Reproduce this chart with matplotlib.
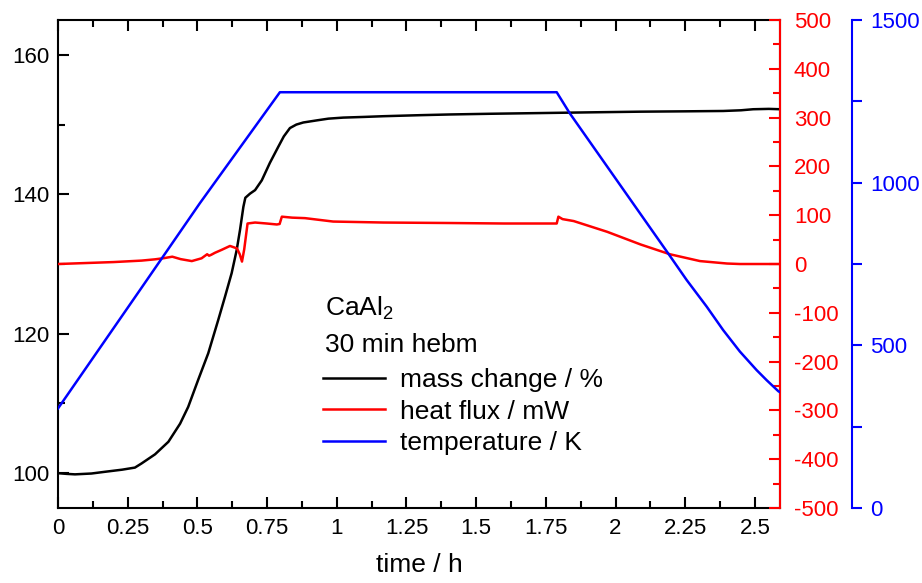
import matplotlib
matplotlib.use('Agg')
import matplotlib.pyplot as plt
from matplotlib.ticker import MultipleLocator, FuncFormatter

plt.rcParams['font.family'] = ['Liberation Sans', 'DejaVu Sans']
plt.rcParams['mathtext.fontset'] = 'custom'
plt.rcParams['mathtext.rm'] = 'Liberation Sans'
plt.rcParams['axes.unicode_minus'] = False

# mass change / %
mass_t = [0, 0.03, 0.061, 0.12, 0.169, 0.23, 0.276, 0.30, 0.348, 0.396, 0.438, 0.467,
          0.503, 0.539, 0.575, 0.599, 0.623, 0.641, 0.653, 0.665, 0.672, 0.689, 0.707,
          0.731, 0.76, 0.79, 0.81, 0.832, 0.855, 0.88, 0.928, 0.97, 1.023, 1.1, 1.167,
          1.3, 1.406, 1.55, 1.729, 1.9, 2.088, 2.25, 2.386, 2.45, 2.494, 2.55, 2.59]
mass_pct = [100.0, 99.9, 99.83, 99.95, 100.2, 100.5, 100.8, 101.4, 102.7, 104.5, 107.1, 109.5,
            113.4, 117.2, 122.0, 125.3, 128.7, 132.0, 134.9, 138.2, 139.5, 140.1, 140.6,
            142.0, 144.5, 146.8, 148.3, 149.5, 150.0, 150.3, 150.6, 150.85, 151.0, 151.1, 151.2,
            151.35, 151.45, 151.55, 151.65, 151.75, 151.85, 151.9, 151.95, 152.05, 152.2, 152.25, 152.2]

# heat flux / mW
flux_t = [0, 0.1, 0.2, 0.3, 0.348, 0.38, 0.41, 0.44, 0.48, 0.515, 0.535, 0.542, 0.55,
          0.563, 0.587, 0.617, 0.642, 0.652, 0.66, 0.668, 0.68, 0.707, 0.749, 0.785,
          0.795, 0.803, 0.84, 0.886, 0.987, 1.167, 1.406, 1.6, 1.789, 1.795, 1.81, 1.85,
          1.97, 2.09, 2.195, 2.303, 2.40, 2.446, 2.59]
flux_mw = [0, 2, 4, 7, 9.6, 12, 15, 10, 6, 11.7, 20, 17, 19,
           23, 29, 37, 32, 20, 5, 30, 83, 85, 83, 81,
           82, 97, 95, 94, 87, 85, 84, 83, 83, 97, 92, 88,
           66, 40, 20, 6, 1, 0, 0]

# temperature / K
temp_t = [0, 0.294, 0.509, 0.796, 1.789, 1.836, 2.195, 2.255, 2.327, 2.386, 2.446,
          2.506, 2.542, 2.584, 2.59]
temp_k = [306, 670, 937, 1278, 1278, 1213, 775, 701, 619, 547, 481,
          424, 393, 359, 356]

fig = plt.figure(figsize=(9.22, 5.83), dpi=100)
ax = fig.add_axes([0.0629, 0.1286, 0.7831, 0.8371])
ax2 = ax.twinx()
ax3 = ax.twinx()

l1, = ax.plot(mass_t, mass_pct, color='black', lw=1.8)
l2, = ax2.plot(flux_t, flux_mw, color='#ff0000', lw=1.8)
l3, = ax3.plot(temp_t, temp_k, color='#0000ff', lw=1.8)

ax.set_xlim(0, 2.59)
ax.set_ylim(95, 165)
ax2.set_ylim(-500, 500)
ax3.set_ylim(0, 1500)

ax.xaxis.set_major_locator(MultipleLocator(0.25))
ax.xaxis.set_minor_locator(MultipleLocator(0.125))
ax.xaxis.set_major_formatter(FuncFormatter(lambda v, p: f'{v:g}'))
ax.yaxis.set_major_locator(MultipleLocator(20))
ax.yaxis.set_minor_locator(MultipleLocator(10))
ax2.yaxis.set_major_locator(MultipleLocator(100))
ax2.yaxis.set_minor_locator(MultipleLocator(50))
ax3.yaxis.set_major_locator(MultipleLocator(500))
ax3.yaxis.set_minor_locator(MultipleLocator(250))

ax.tick_params(axis='both', which='both', direction='in', top=True, right=False,
               labelsize=16, width=1.5)
ax.tick_params(which='major', length=8)
ax.tick_params(which='minor', length=5)
ax.tick_params(axis='x', pad=7)
ax.tick_params(axis='y', pad=6)

ax2.tick_params(axis='y', which='both', direction='in', colors='#ff0000',
                labelsize=16, width=1.5, pad=10)
ax2.tick_params(which='major', length=8)
ax2.tick_params(which='minor', length=5)

ax3.spines['right'].set_position(('axes', 1.0997))
ax3.tick_params(axis='y', which='both', direction='out', colors='#0000ff',
                labelsize=16, width=1.5, pad=6)
ax3.tick_params(which='major', length=7)
ax3.tick_params(which='minor', length=7)

for a in (ax, ax2, ax3):
    for s in a.spines.values():
        s.set_linewidth(1.5)
ax2.spines['right'].set_color('#ff0000')
ax3.spines['right'].set_color('#0000ff')
for a in (ax2, ax3):
    a.spines['left'].set_visible(False)
    a.spines['top'].set_visible(False)
    a.spines['bottom'].set_visible(False)

ax.set_xlabel('time / h', fontsize=19, labelpad=10)

ax3.text(0.370, 0.395, r'CaAl$_\mathregular{2}$', transform=ax.transAxes, fontsize=19,
         ha='left', va='baseline')
ax3.text(0.370, 0.320, '30 min hebm', transform=ax.transAxes, fontsize=19,
         ha='left', va='baseline')
ax3.legend([l1, l2, l3], ['mass change / %', 'heat flux / mW', 'temperature / K'],
           loc='upper left', bbox_to_anchor=(0.367, 0.287), frameon=False, fontsize=19,
           borderpad=0, borderaxespad=0, handlelength=2.35, handletextpad=0.57,
           labelspacing=0.29)

fig.savefig('out.png', dpi=100)
